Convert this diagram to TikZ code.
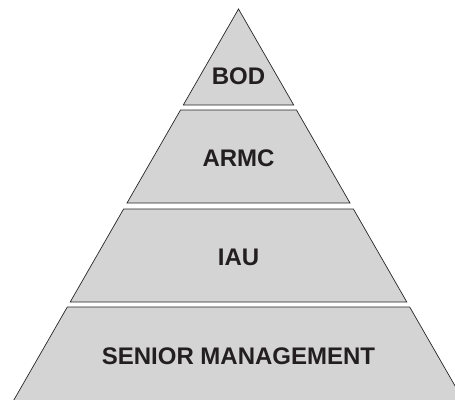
\documentclass[tikz,border=0pt]{standalone}
\usepackage{fontspec}
\setmainfont{Liberation Sans}
\definecolor{layerfill}{HTML}{D4D4D4}
\definecolor{labeltext}{HTML}{231F20}
\begin{document}
\begin{tikzpicture}[x=1pt,y=-1pt,
  layer/.style={fill=layerfill,draw=black!85,line width=0.7pt,line join=miter},
  lbl/.style={font=\fontsize{24}{28}\selectfont\bfseries,text=labeltext,inner sep=0pt}]
\useasboundingbox (0,0) rectangle (455,399);
\clip (0,0) rectangle (455,399);
% layers
\draw[layer] (238.5,9) -- (293.7,105) -- (183.3,105) -- cycle;
\draw[layer] (180.5,110) -- (296.5,110) -- (350,203) -- (127,203) -- cycle;
\draw[layer] (123.6,209) -- (353.4,209) -- (406.8,302) -- (70.2,302) -- cycle;
\draw[layer] (67.3,307) -- (409.7,307) -- (468.9,410) -- (8.1,410) -- cycle;
% labels
\node[lbl] (bod) at (238.5,76.7) {BOD};
\node[lbl] (armc) at (238.5,158.7) {ARMC};
\node[lbl] (iau) at (238.5,257.5) {IAU};
\node[lbl] (senior) at (238.5,356) {SENIOR MANAGEMENT};
\end{tikzpicture}
\end{document}
